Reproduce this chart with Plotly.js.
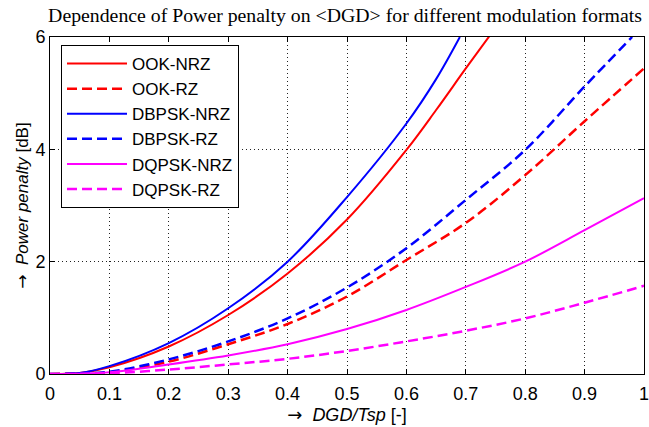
<!DOCTYPE html>
<html>
<head>
<meta charset="utf-8">
<script src="https://cdn.plot.ly/plotly-3.0.1.min.js"></script>
<style>html,body{margin:0;padding:0;background:#fff;}#chart{width:649px;height:427px;}</style>
</head>
<body>
<div id="chart"></div>
<script>
// Data
const seriesNames = ['OOK-NRZ', 'OOK-RZ', 'DBPSK-NRZ', 'DBPSK-RZ', 'DQPSK-NRZ', 'DQPSK-RZ'];

const xOokNrz = [0, 0.05, 0.1, 0.2, 0.3, 0.4, 0.5, 0.6, 0.65, 0.7, 0.74];
const yOokNrz = [0, 0.02, 0.12, 0.49, 1.05, 1.79, 2.75, 3.99, 4.7, 5.44, 6.02];

const xOokRz = [0, 0.05, 0.1, 0.2, 0.3, 0.4, 0.5, 0.6, 0.7, 0.8, 0.9, 1.0];
const yOokRz = [0, 0.01, 0.03, 0.22, 0.53, 0.89, 1.38, 2.03, 2.69, 3.54, 4.5, 5.44];

const xDbpskNrz = [0, 0.05, 0.1, 0.2, 0.3, 0.4, 0.5, 0.6, 0.65, 0.69];
const yDbpskNrz = [0, 0.02, 0.14, 0.55, 1.17, 2.0, 3.15, 4.46, 5.25, 6.0];

const xDbpskRz = [0, 0.05, 0.1, 0.2, 0.3, 0.4, 0.5, 0.6, 0.7, 0.8, 0.9, 0.98];
const yDbpskRz = [0, 0.01, 0.04, 0.26, 0.58, 0.99, 1.54, 2.24, 3.10, 3.99, 5.12, 6.0];

const xDqpskNrz = [0, 0.05, 0.1, 0.2, 0.3, 0.4, 0.5, 0.6, 0.7, 0.8, 0.9, 1.0];
const yDqpskNrz = [0, 0.005, 0.03, 0.17, 0.33, 0.53, 0.80, 1.14, 1.55, 2.0, 2.56, 3.13];

const xDqpskRz = [0, 0.05, 0.1, 0.2, 0.3, 0.4, 0.5, 0.6, 0.7, 0.8, 0.9, 1.0];
const yDqpskRz = [0, 0.0, 0.01, 0.08, 0.17, 0.27, 0.41, 0.58, 0.77, 0.99, 1.27, 1.57];

const xTickVals = [0, 0.1, 0.2, 0.3, 0.4, 0.5, 0.6, 0.7, 0.8, 0.9, 1];
const xTickText = ['0', '0.1', '0.2', '0.3', '0.4', '0.5', '0.6', '0.7', '0.8', '0.9', '1'];
const yTickVals = [0, 2, 4, 6];
const yTickText = ['0', '2', '4', '6'];

const xs = [xOokNrz, xOokRz, xDbpskNrz, xDbpskRz, xDqpskNrz, xDqpskRz];
const ys = [yOokNrz, yOokRz, yDbpskNrz, yDbpskRz, yDqpskNrz, yDqpskRz];
const colors = ['#ff0000', '#ff0000', '#0000ff', '#0000ff', '#ff00ff', '#ff00ff'];
const dashes = ['solid', '10px,5px', 'solid', '10px,5px', 'solid', '10px,5px'];
const widths = [2, 2.5, 2, 2.5, 2, 2.5];

const traces = seriesNames.map((n, i) => ({
  x: xs[i], y: ys[i], name: n, type: 'scatter', mode: 'lines',
  legendgroup: 'g' + i,
  line: {color: colors[i], width: widths[i], dash: dashes[i], shape: 'spline', smoothing: 1}
}));

const font = 'Liberation Sans, Arial, sans-serif';
const arrow = '<span style="font-family:DejaVu Sans">→</span>';
const layout = {
  width: 649, height: 427,
  margin: {l: 50, r: 5, t: 37, b: 53},
  paper_bgcolor: '#fff', plot_bgcolor: '#fff',
  showlegend: true,
  title: {
    text: 'Dependence of Power penalty on &lt;DGD&gt; for different modulation formats',
    font: {family: 'Liberation Serif, Times New Roman, serif', size: 19.8, color: '#000'},
    x: 345 / 649, xref: 'container', xanchor: 'center',
    y: 1 - 15 / 427, yref: 'container', yanchor: 'middle'
  },
  xaxis: {
    range: [0, 1], tickvals: xTickVals, ticktext: xTickText,
    ticks: 'inside', ticklen: 5, tickcolor: '#000', tickwidth: 1,
    showline: true, linecolor: '#000', linewidth: 1, mirror: 'ticks',
    showgrid: true, gridcolor: '#222', griddash: '1px,3px', gridwidth: 1,
    zeroline: false, automargin: false, ticklabeloverflow: 'allow',
    ticklabelstandoff: 3,
    tickfont: {family: font, size: 18, color: '#000'},
    title: {text: arrow + '  <i>DGD/Tsp</i> [-]', font: {family: font, size: 18, color: '#000'}, standoff: 2}
  },
  yaxis: {
    range: [0, 6], tickvals: yTickVals, ticktext: yTickText,
    ticks: 'inside', ticklen: 5, tickcolor: '#000', tickwidth: 1,
    showline: true, linecolor: '#000', linewidth: 1, mirror: 'ticks',
    showgrid: true, gridcolor: '#222', griddash: '1px,3px', gridwidth: 1,
    zeroline: false, automargin: false,
    tickfont: {family: font, size: 18, color: '#000'},
    title: {text: arrow + '  <i>Power penalty</i> [dB]', font: {family: font, size: 17, color: '#000'}, standoff: 2}
  },
  legend: {
    x: (61 - 50) / 594, y: (374 - 45) / 337, xanchor: 'left', yanchor: 'top',
    bgcolor: '#fff', bordercolor: '#000', borderwidth: 1,
    font: {family: font, size: 17, color: '#000'},
    traceorder: 'grouped', tracegroupgap: 0, itemwidth: 60
  }
};

Plotly.newPlot('chart', traces, layout, {displayModeBar: false, staticPlot: true});
</script>
</body>
</html>
